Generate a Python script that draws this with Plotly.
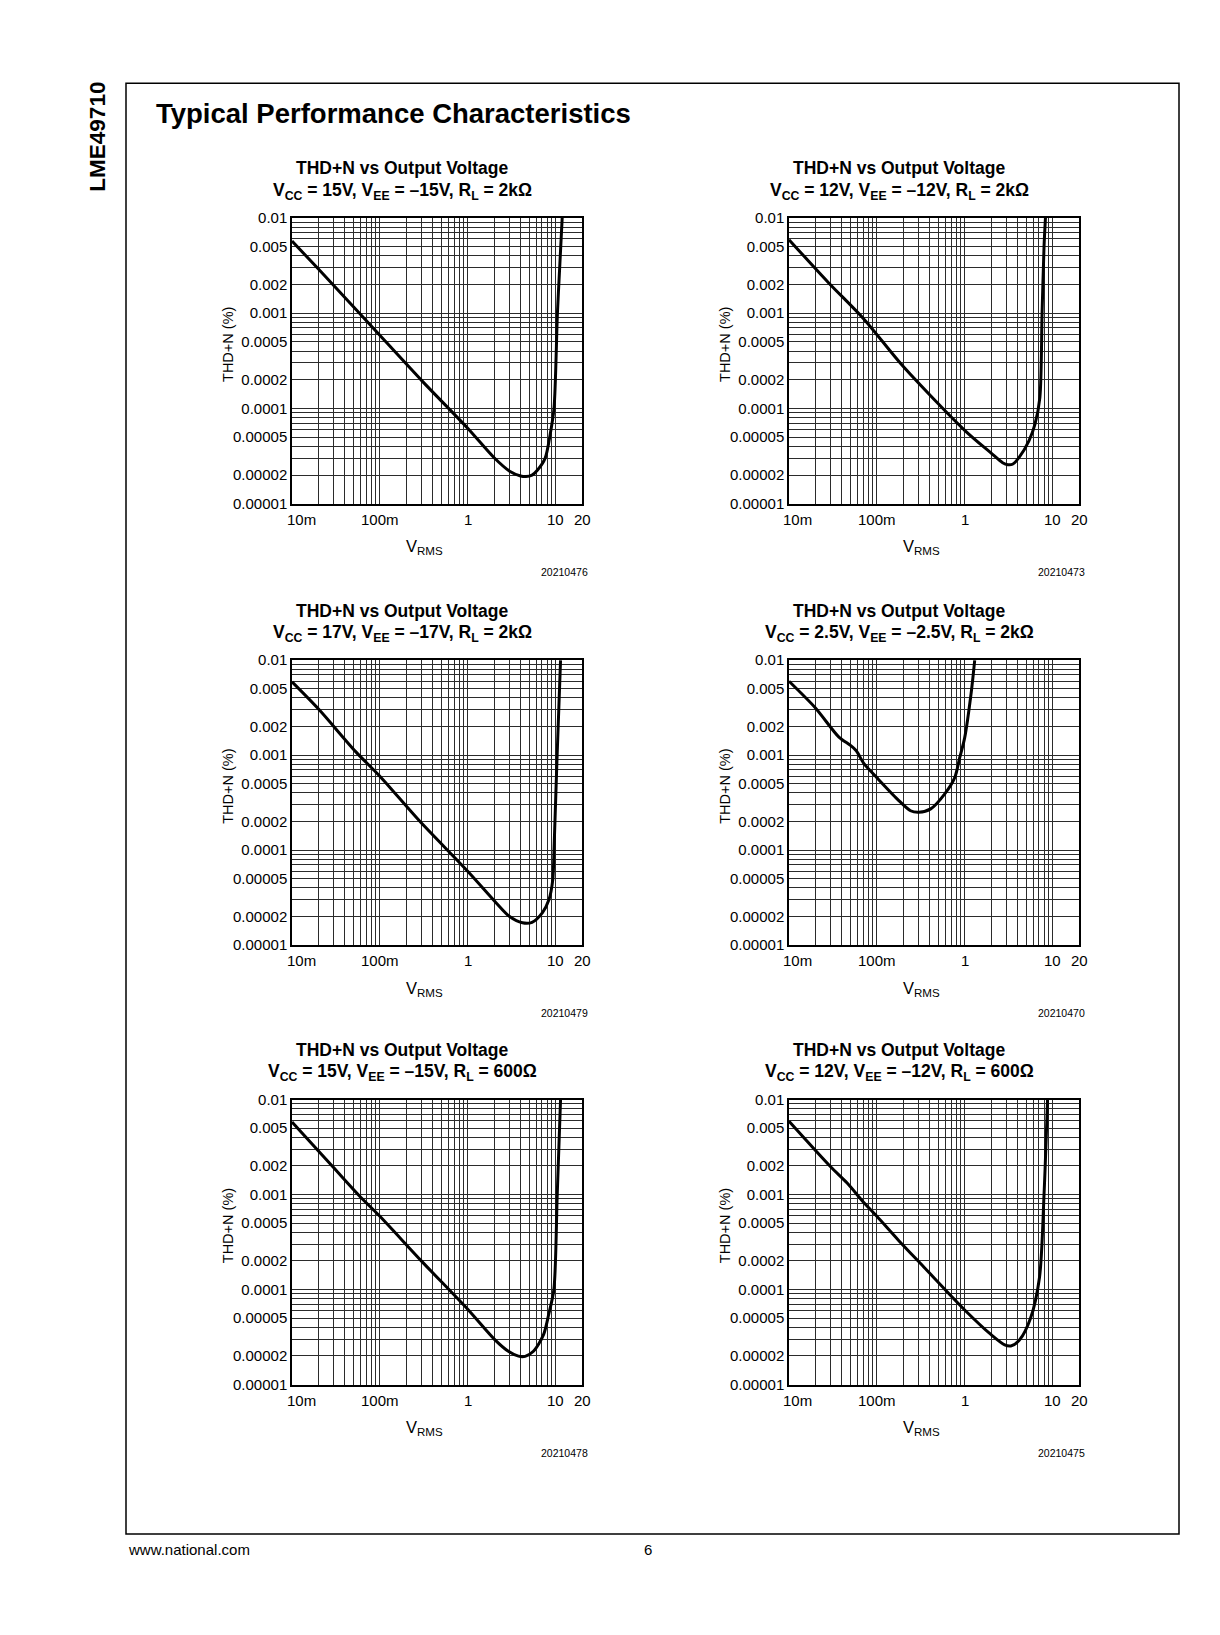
import math
import plotly.graph_objects as go

FONT = "Liberation Sans, Arial, Helvetica, sans-serif"
W, H = 1220, 1635

# curves: output voltage (VRMS) and THD+N (%)
vrms_15v_2k = [0.01, 0.02, 0.077, 0.3, 1.0, 2.0, 3.0, 4.0, 4.6, 5.4, 6.2, 7.6, 8.7, 9.6, 10.5, 11.2, 11.9]
thdn_15v_2k = [0.0057, 0.0029, 0.00076, 0.000196, 6.2e-5, 3.04e-5, 2.2e-5, 1.96e-5, 1.93e-5, 2.0e-5,
               2.25e-5, 3.0e-5, 5.4e-5, 1.0e-4, 0.001, 0.0033, 0.01]

vrms_12v_2k = [0.01, 0.028, 0.071, 0.2, 1.0, 2.0, 2.7, 3.1, 3.5, 4.2, 5.4, 6.3, 7.17, 7.6, 8.0, 8.3]
thdn_12v_2k = [0.0059, 0.0021, 0.00087, 0.000275, 5.9e-5, 3.4e-5, 2.7e-5, 2.57e-5, 2.6e-5, 3.1e-5,
               4.6e-5, 6.8e-5, 1.3e-4, 0.001, 0.005, 0.01]

vrms_17v_2k = [0.01, 0.0204, 0.053, 0.1, 0.28, 1.0, 2.1, 3.0, 4.2, 5.4, 7.1, 8.4, 9.3, 9.6, 10.4, 11.4]
thdn_17v_2k = [0.0059, 0.003, 0.00109, 0.0006, 0.000205, 6.0e-5, 2.8e-5, 2.0e-5, 1.72e-5, 1.74e-5,
               2.2e-5, 3.0e-5, 4.9e-5, 1.0e-4, 0.00095, 0.01]

vrms_2v5_2k = [0.01, 0.02, 0.037, 0.05, 0.058, 0.071, 0.1, 0.171, 0.242, 0.3, 0.41, 0.59, 0.77,
               0.877, 1.0, 1.19, 1.3]
thdn_2v5_2k = [0.006, 0.00314, 0.00155, 0.00127, 0.00112, 0.00082, 0.00058, 0.000345, 0.00026,
               0.000251, 0.000272, 0.000389, 0.00058, 0.00094, 0.00153, 0.00468, 0.01]

vrms_15v_600 = [0.01, 0.029, 0.059, 0.1, 0.3, 1.0, 2.03, 2.9, 3.78, 4.5, 5.6, 7.3, 8.4, 9.57, 10.45, 11.4]
thdn_15v_600 = [0.0058, 0.00197, 0.00096, 0.00059, 0.000198, 6.2e-5, 2.97e-5, 2.24e-5, 1.99e-5,
                1.98e-5, 2.24e-5, 3.35e-5, 5.6e-5, 1.0e-4, 0.001, 0.01]

vrms_12v_600 = [0.01, 0.0296, 0.0459, 0.0714, 0.1, 0.178, 0.344, 1.0, 2.0, 2.85, 3.35, 4.2, 5.6,
                7.1, 8.0, 8.77]
thdn_12v_600 = [0.0059, 0.00197, 0.00132, 0.00082, 0.00059, 0.000327, 0.000172, 6.1e-5, 3.35e-5,
                2.62e-5, 2.55e-5, 2.94e-5, 4.95e-5, 1.34e-4, 0.001, 0.01]

panel_vrms = [vrms_15v_2k, vrms_12v_2k, vrms_17v_2k, vrms_2v5_2k, vrms_15v_600, vrms_12v_600]
panel_thdn = [thdn_15v_2k, thdn_12v_2k, thdn_17v_2k, thdn_2v5_2k, thdn_15v_600, thdn_12v_600]
panel_vcc = ["15V", "12V", "17V", "2.5V", "15V", "12V"]
panel_vee = ["\u201315V", "\u201312V", "\u201317V", "\u20132.5V", "\u201315V", "\u201312V"]
panel_rl = ["2k\u03a9", "2k\u03a9", "2k\u03a9", "2k\u03a9", "600\u03a9", "600\u03a9"]
panel_ids = ["20210476", "20210473", "20210479", "20210470", "20210478", "20210475"]

y_tick_vals = [0.01, 0.005, 0.002, 0.001, 0.0005, 0.0002, 0.0001, 0.00005, 0.00002, 0.00001]
y_tick_text = ["0.01", "0.005", "0.002", "0.001", "0.0005", "0.0002", "0.0001", "0.00005",
               "0.00002", "0.00001"]
x_tick_vals = [0.01, 0.1, 1, 10, 20]
x_tick_text = ["10m", "100m", "1", "10", "20"]

# log grid lines (1..9 per decade)
x_grid = [m * 10 ** e for e in (-2, -1, 0) for m in range(1, 10)] + [10]
y_grid = [m * 10 ** e for e in (-5, -4, -3) for m in range(1, 10)] + [0.01]

GRID = "#2b2b2b"


def px(x):
    return x / W


def py(y):
    return 1 - y / H


def note(x, y, text, size, **kw):
    # page-positioned text, x/y in pixels from the top-left corner
    d = dict(x=px(x), y=py(y), xref="paper", yref="paper", text=text, showarrow=False,
             xanchor="center", yanchor="middle", font=dict(family=FONT, size=size, color="black"))
    d.update(kw)
    return d


col_left = [292, 789]
col_right = [582, 1079]
row_top = [211, 658, 1102]
row_bottom = [500, 946, 1390]

fig = go.Figure()
annotations = []
layout = {}

for i in range(6):
    r, c = i // 2, i % 2
    n = "" if i == 0 else str(i + 1)
    x0, x1 = col_left[c], col_right[c]
    top, bot = row_top[r], row_bottom[r]
    cx = (x0 + x1) / 2

    fig.add_trace(go.Scatter(
        x=panel_vrms[i], y=panel_thdn[i], mode="lines",
        line=dict(color="black", width=3, shape="spline", smoothing=0.8),
        xaxis="x" + n, yaxis="y" + n, showlegend=False, hoverinfo="skip"))

    layout["xaxis" + n] = dict(
        type="log", range=[-2, math.log10(20)], domain=[px(x0), px(x1)], anchor="y" + n,
        tickmode="array", tickvals=x_grid, showticklabels=False, ticks="",
        showgrid=True, gridcolor=GRID, gridwidth=1, zeroline=False,
        showline=True, mirror=True, linecolor="black", linewidth=1.5, fixedrange=True)
    layout["yaxis" + n] = dict(
        type="log", range=[-5, -2], domain=[py(bot), py(top)], anchor="x" + n,
        tickmode="array", tickvals=y_tick_vals, ticktext=y_tick_text, ticks="",
        tickfont=dict(family=FONT, size=15, color="black"),
        showgrid=True, gridcolor=GRID, gridwidth=1, zeroline=False,
        minor=dict(tickmode="array", tickvals=y_grid, ticks="", showgrid=True,
                   gridcolor=GRID, gridwidth=1),
        showline=True, mirror=True, linecolor="black", linewidth=1.5, fixedrange=True)

    # x tick labels
    for tv, tt in zip(x_tick_vals, x_tick_text):
        annotations.append(dict(
            x=math.log10(tv), y=0, xref="x" + n, yref="y" + n + " domain",
            text=tt, showarrow=False, xanchor="center", yanchor="top", yshift=-5,
            xshift=9 if tt == "10m" else 0,
            font=dict(family=FONT, size=15, color="black")))

    # titles
    annotations.append(note(cx - 35, top - 50, "<b>THD+N vs Output Voltage</b>", 17.5))
    annotations.append(note(
        cx - 35, top - 27,
        "<b>V<sub>CC</sub> = %s, V<sub>EE</sub> = %s, R<sub>L</sub> = %s</b>"
        % (panel_vcc[i], panel_vee[i], panel_rl[i]), 17.5))

    # axis titles
    annotations.append(note(cx - 13, bot + 44, "V<sub>RMS</sub>", 16.5))
    annotations.append(note(x0 - 64, (top + bot) / 2 - 16, "THD+N (%)", 14.5, textangle=-90))

    # figure id
    annotations.append(note(x1 + 8, bot + 69, panel_ids[i], 10.5, xanchor="right"))

# page furniture
annotations.append(note(98, 129, "<b>LME49710</b>", 22.5, textangle=-90))
annotations.append(note(154, 106, "<b>Typical Performance Characteristics</b>", 27.5, xanchor="left"))
annotations.append(note(126, 1557, "www.national.com", 15, xanchor="left"))
annotations.append(note(648, 1557, "6", 15))

fig.update_layout(
    width=W, height=H, margin=dict(l=0, r=0, t=0, b=0),
    paper_bgcolor="white", plot_bgcolor="white",
    annotations=annotations,
    shapes=[dict(type="rect", xref="paper", yref="paper", x0=px(126), x1=px(1179),
                 y0=py(1541), y1=py(75), line=dict(color="black", width=1.5))],
    **layout)

fig.write_html("out.html", config={"displayModeBar": False},
               post_script="document.body.style.margin = '0';")
